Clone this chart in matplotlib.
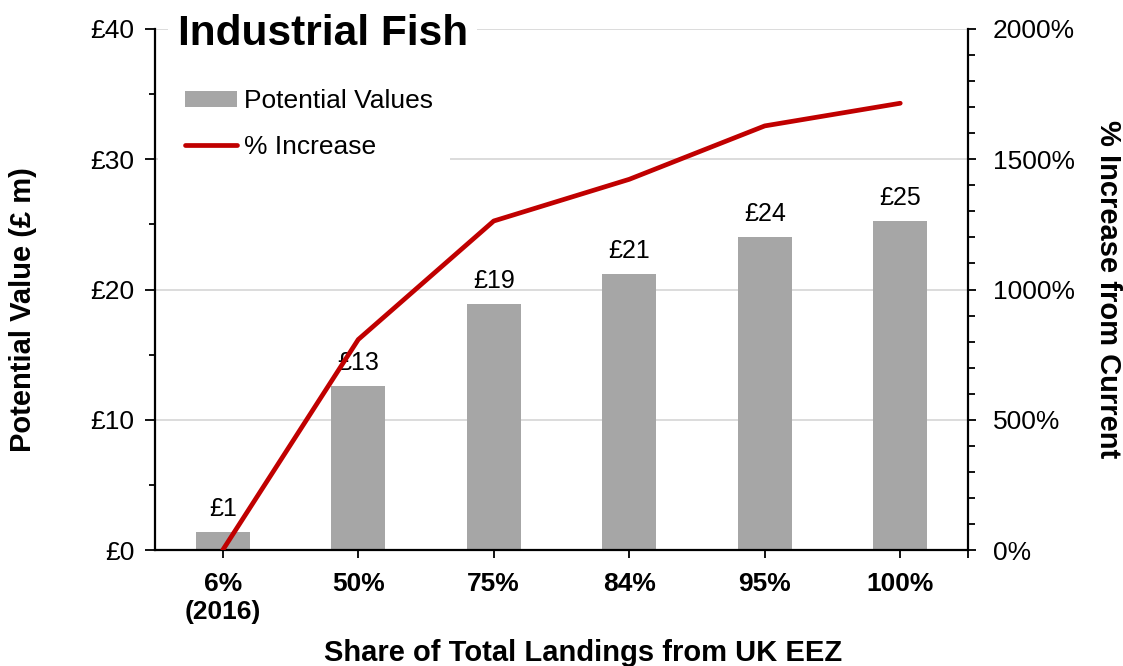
import matplotlib
matplotlib.use("Agg")
import matplotlib.pyplot as plt
from matplotlib.ticker import MultipleLocator, FuncFormatter
from matplotlib.patches import Patch, Rectangle
from matplotlib.lines import Line2D

plt.rcParams['font.family'] = ['Liberation Sans', 'DejaVu Sans']

categories = ["6%\n(2016)", "50%", "75%", "84%", "95%", "100%"]
values = [1.36, 12.6, 18.9, 21.2, 24.0, 25.25]
value_labels = ["£1", "£13", "£19", "£21", "£24", "£25"]
pct_increase = [0, 808, 1263, 1423, 1628, 1715]

bar_color = "#A6A6A6"
line_color = "#C00000"

W, H = 1123, 666
fig = plt.figure(figsize=(W/100, H/100), dpi=100)
ax = fig.add_axes([155/W, 1-550/H, (968-155)/W, (550-29)/H])
ax2 = ax.twinx()

x = list(range(len(categories)))
ax.bar(x, values, width=0.4, color=bar_color, zorder=2)
for xi, v, lab in zip(x, values, value_labels):
    ax.annotate(lab, (xi, v), xytext=(0, 8), textcoords="offset points",
                ha="center", va="bottom", fontsize=18, zorder=3)

ax.set_xlim(-0.5, 5.5)
ax.set_ylim(0, 40)
ax.yaxis.set_major_locator(MultipleLocator(10))
ax.yaxis.set_minor_locator(MultipleLocator(5))
ax.yaxis.set_major_formatter(FuncFormatter(lambda v, p: f"£{int(v)}"))
ax.grid(axis='y', color="#D9D9D9", linewidth=1.3, zorder=0)
ax.set_axisbelow(True)

# white boxes hiding gridlines behind title and legend
ax.add_patch(Rectangle(((168-155)/813, (38.5)/40), (477-168)/813, 0.06,
                       transform=ax.transAxes, facecolor="white", edgecolor="none",
                       zorder=1, clip_on=False))
ax.add_patch(Rectangle((0.004, 29.0/40), (450-158)/813, 0.05,
                       transform=ax.transAxes, facecolor="white", edgecolor="none",
                       zorder=1))

ax.set_xticks(x + [5.5])
ax.set_xticklabels(categories + [""], fontsize=19, fontweight="bold")
ax.tick_params(axis='x', length=6, width=1.3, pad=10)
ax.tick_params(axis='y', which='major', length=7, width=1.3, labelsize=19, pad=8)
ax.tick_params(axis='y', which='minor', length=4, width=1.3)

ax.spines['top'].set_visible(False)
ax2.spines['top'].set_visible(False)
ax.spines['right'].set_visible(False)
ax.spines['left'].set_linewidth(1.6)
ax.spines['bottom'].set_linewidth(1.6)
ax2.spines['left'].set_visible(False)
ax2.spines['bottom'].set_visible(False)
ax2.spines['right'].set_linewidth(1.6)

ax2.plot(x, pct_increase, color=line_color, linewidth=3.4, solid_capstyle='round', zorder=4)
ax2.set_ylim(0, 2000)
ax2.yaxis.set_major_locator(MultipleLocator(500))
ax2.yaxis.set_minor_locator(MultipleLocator(100))
ax2.yaxis.set_major_formatter(FuncFormatter(lambda v, p: f"{int(v)}%"))
ax2.tick_params(axis='y', which='major', length=6, width=1.3, labelsize=19, pad=12)
ax2.tick_params(axis='y', which='minor', length=5, width=1.3)

fig.text(23/W, 1-310/H, "Potential Value (£ m)", fontsize=21, fontweight="bold",
         rotation=90, ha="center", va="center")
fig.text(1108/W, 1-289/H, "% Increase from Current", fontsize=21, fontweight="bold",
         rotation=-90, ha="center", va="center")
fig.text(583/W, 1-653/H, "Share of Total Landings from UK EEZ", fontsize=21,
         fontweight="bold", ha="center", va="center")

fig.text(178/W, 1-34/H, "Industrial Fish", fontsize=30.5, fontweight="bold",
         ha="left", va="center", zorder=10)

handles = [Patch(facecolor=bar_color, edgecolor='none'),
           Line2D([0], [0], color=line_color, linewidth=3.4, solid_capstyle='round')]
leg = ax2.legend(handles, ["Potential Values", "% Increase"], loc="center left",
                 bbox_to_anchor=((185-155)/813, (550-124)/521), frameon=False, fontsize=19,
                 handlelength=1.97, handleheight=0.55, handletextpad=0.25,
                 labelspacing=0.83, borderaxespad=0.0, borderpad=0.0)
leg.set_zorder(9)

fig.savefig("out.png", dpi=100)
